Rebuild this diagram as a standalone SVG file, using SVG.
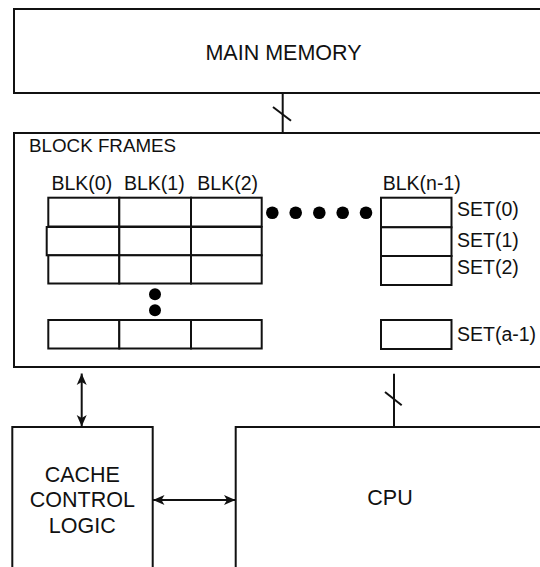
<svg xmlns="http://www.w3.org/2000/svg" width="540" height="567" viewBox="0 0 540 567">
<style>
.box{fill:#fff;stroke:#111;stroke-width:2}
.cell{fill:#fff;stroke:#111;stroke-width:2}
.t{font-family:"Liberation Sans",Arial,sans-serif;fill:#111}
.big{font-size:21.5px}
.lab{font-size:19.5px}
.wire{stroke:#111;stroke-width:2;fill:none}
.dot{fill:#000}
</style>
<defs>
<marker id="ah" viewBox="-12 -6 12 12" refX="0" refY="0" markerWidth="12" markerHeight="12" markerUnits="userSpaceOnUse" orient="auto-start-reverse">
<path d="M0,0 L-11.5,-5 L-8.5,0 L-11.5,5 Z" fill="#111"/>
</marker>
</defs>
<rect width="540" height="567" fill="#fff"/>

<g id="main-memory">
<rect class="box" x="14" y="9" width="560" height="84"/>
<text class="t big" x="283.5" y="60" text-anchor="middle">MAIN MEMORY</text>
</g>

<g id="block-frames">
<rect class="box" x="14" y="133" width="560" height="234"/>
<text class="t lab" x="29" y="151.5" style="font-size:18.8px">BLOCK FRAMES</text>
<text class="t lab" x="51.5" y="189.5">BLK(0)</text>
<text class="t lab" x="124" y="189.5">BLK(1)</text>
<text class="t lab" x="197.3" y="189.5">BLK(2)</text>
<text class="t lab" x="382.7" y="189.5">BLK(n-1)</text>
<g id="grid">
<rect class="cell" x="48.3" y="197.7" width="71" height="28.8"/>
<rect class="cell" x="119.3" y="197.7" width="71.7" height="28.8"/>
<rect class="cell" x="191" y="197.7" width="70.7" height="28.8"/>
<rect class="cell" x="46.7" y="227" width="72.6" height="28.3"/>
<rect class="cell" x="119.3" y="227" width="71.7" height="28.3"/>
<rect class="cell" x="191" y="227" width="70.7" height="28.3"/>
<rect class="cell" x="48.3" y="255.3" width="71" height="28.2"/>
<rect class="cell" x="119.3" y="255.3" width="71.7" height="28.2"/>
<rect class="cell" x="191" y="255.3" width="70.7" height="28.2"/>
<rect class="cell" x="48.3" y="320" width="71" height="28.5"/>
<rect class="cell" x="119.3" y="320" width="71.7" height="28.5"/>
<rect class="cell" x="191" y="320" width="70.7" height="28.5"/>
<rect class="cell" x="381" y="197.7" width="70.5" height="29.6"/>
<rect class="cell" x="381" y="227.3" width="70.5" height="28.7"/>
<rect class="cell" x="381" y="256" width="70.5" height="29"/>
<rect class="cell" x="381" y="320" width="70.5" height="29"/>
</g>
<g id="ellipses">
<circle class="dot" cx="272.3" cy="212.7" r="6.3"/>
<circle class="dot" cx="295.7" cy="212.7" r="6.3"/>
<circle class="dot" cx="319.3" cy="212.7" r="6.3"/>
<circle class="dot" cx="342.7" cy="212.7" r="6.3"/>
<circle class="dot" cx="366" cy="212.7" r="6.3"/>
<circle class="dot" cx="155" cy="294.3" r="6"/>
<circle class="dot" cx="155" cy="310.3" r="6"/>
</g>
<text class="t lab" x="457" y="216">SET(0)</text>
<text class="t lab" x="457" y="247">SET(1)</text>
<text class="t lab" x="457" y="274">SET(2)</text>
<text class="t lab" x="457" y="341">SET(a-1)</text>
</g>

<g id="cache-control-logic">
<rect class="box" x="12.3" y="427" width="140.4" height="160"/>
<text class="t big" x="82.3" y="481.7" text-anchor="middle">CACHE</text>
<text class="t big" x="82.3" y="507" text-anchor="middle">CONTROL</text>
<text class="t big" x="82.3" y="532.7" text-anchor="middle">LOGIC</text>
</g>

<g id="cpu">
<rect class="box" x="235.7" y="427" width="340" height="160"/>
<text class="t big" x="390" y="505" text-anchor="middle">CPU</text>
</g>

<g id="connectors">
<line class="wire" x1="282.7" y1="93" x2="282.7" y2="133"/>
<line class="wire" x1="273" y1="107" x2="291" y2="120.7"/>
<line class="wire" x1="394" y1="373.7" x2="394" y2="427"/>
<line class="wire" x1="385" y1="392" x2="401.7" y2="405.3"/>
<line class="wire" x1="81.7" y1="373.5" x2="81.7" y2="426.5" marker-start="url(#ah)" marker-end="url(#ah)"/>
<line class="wire" x1="153" y1="500" x2="235.5" y2="500" marker-start="url(#ah)" marker-end="url(#ah)"/>
</g>
</svg>
